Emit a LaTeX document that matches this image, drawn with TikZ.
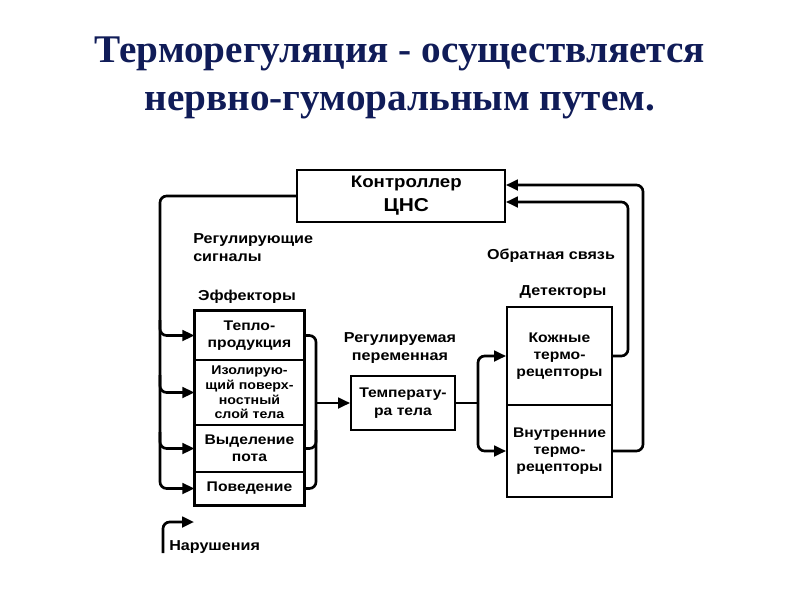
\documentclass[tikz,border=0pt]{standalone}
\usepackage{fontspec}
\setmainfont{Liberation Serif}
\newfontfamily\diag{Liberation Sans}[FakeStretch=1.12]
\usetikzlibrary{arrows.meta}
\definecolor{titleblue}{RGB}{16,28,88}
\begin{document}
\begin{tikzpicture}[x=0.75pt,y=-0.75pt,
  line/.style={line width=2pt, rounded corners=5pt},
  arr/.style={line, -{Triangle[length=9pt,width=8pt]}},
  box/.style={draw, line width=1.4pt, inner sep=0pt, align=center,
    font=\diag\bfseries\fontsize{10.5}{13}\selectfont},
  sub/.style={draw, line width=0.9pt, inner sep=0pt, align=center,
    font=\diag\bfseries\fontsize{10.5}{13}\selectfont},
  lbl/.style={inner sep=0pt, font=\diag\bfseries\fontsize{10.8}{13.5}\selectfont},
  ttl/.style={anchor=base, inner sep=0pt, text=titleblue,
    font=\bfseries\fontsize{29.4}{36}\selectfont}
 ]
\useasboundingbox (0,0) rectangle (800,600);
% title
\node[ttl] (t1) at (400,62) {Терморегуляция - осуществляется};
\node[ttl] (t2) at (400,110) {нервно-гуморальным путем.};
% controller
\node[box, minimum width=156pt, minimum height=39pt,
  font=\diag\bfseries\fontsize{12.5}{14}\selectfont] (ctrl) at (401,196)
  {\hspace*{8pt}Контроллер\\[4pt]{\fontsize{14}{16}\selectfont\hspace*{8pt}ЦНС}};
% effectors
\node[sub, minimum width=81.75pt, minimum height=36.75pt] (eff1) at (249.5,335.5) {Тепло-\\продукция};
\node[sub, minimum width=81.75pt, minimum height=48.75pt,
  font=\diag\bfseries\fontsize{9.5}{11}\selectfont] (eff2) at (249.5,392.5)
  {Изолирую-\\щий поверх-\\ностный\\слой тела};
\node[sub, minimum width=81.75pt, minimum height=35.25pt] (eff3) at (249.5,448.5) {Выделение\\пота};
\node[sub, minimum width=81.75pt, minimum height=24.75pt] (eff4) at (249.5,488.5) {Поведение};
\draw[line width=1.5pt] (eff1.north west) rectangle (eff4.south east);
% temperature
\node[box, minimum width=78pt, minimum height=40.5pt] (temp) at (403,403) {Температу-\\ра тела};
% detectors
\node[box, minimum width=78.75pt, minimum height=73.5pt] (det1) at (559.5,356) {Кожные\\термо-\\рецепторы};
\node[box, minimum width=78.75pt, minimum height=69pt] (det2) at (559.5,451) {Внутренние\\термо-\\рецепторы};
% labels
\node[lbl, align=left, anchor=north west] (lreg) at (193,233) {Регулирующие\\сигналы};
\node[lbl] (leff) at (247,297) {Эффекторы};
\node[lbl, align=center] (lvar) at (400,348) {Регулируемая\\переменная};
\node[lbl] (lfb) at (551,256) {Обратная связь};
\node[lbl] (ldet) at (563,292) {Детекторы};
\node[lbl, anchor=west] (ldist) at (169,547) {Нарушения};
% left bus
\draw[arr] (ctrl.west) -| (160,300) |- (eff4.west);
\draw[arr] (160,320) |- (eff1.west);
\draw[arr] (160,375) |- (eff2.west);
\draw[arr] (160,432) |- (eff3.west);
% right bracket
\draw[line] (eff1.east) -| (316,403) |- (eff4.east);
\draw[line] (eff3.east) -| (316,430);
\draw[arr] (316,403) -- (temp.west);
% to detectors
\draw[line] (temp.east) -- (478,403);
\draw[arr] (478,403) |- (det1.west);
\draw[arr] (478,403) |- (det2.west);
% feedback
\draw[arr] (det1.east) -| (628,202) -- (ctrl.east |- 0,202);
\draw[arr] (det2.east) -| (643,185) -- (ctrl.east |- 0,185);
% disturbance
\coordinate (dtip) at (194,522);
\draw[arr] (163,553) |- (dtip);
\end{tikzpicture}
\end{document}
